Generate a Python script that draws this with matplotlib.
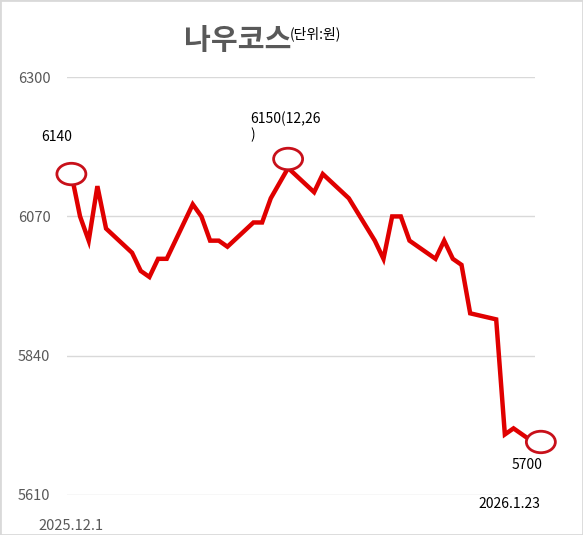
import matplotlib
matplotlib.use("Agg")
import matplotlib.pyplot as plt
import matplotlib.dates as mdates
from matplotlib.patches import Ellipse, Rectangle
from matplotlib.transforms import ScaledTranslation
from datetime import datetime, timedelta

plt.rcParams['font.family'] = ['Noto Sans CJK KR', 'DejaVu Sans']

# trading days (weekends / holidays skipped, date axis keeps the gaps)
dates = ["2025-12-01", "2025-12-02", "2025-12-03", "2025-12-04", "2025-12-05",
         "2025-12-08", "2025-12-09", "2025-12-10", "2025-12-11", "2025-12-12",
         "2025-12-15", "2025-12-16", "2025-12-17", "2025-12-18", "2025-12-19",
         "2025-12-22", "2025-12-23", "2025-12-24", "2025-12-26",
         "2025-12-29", "2025-12-30",
         "2026-01-02",
         "2026-01-05", "2026-01-06", "2026-01-07", "2026-01-08", "2026-01-09",
         "2026-01-12", "2026-01-13", "2026-01-14", "2026-01-15", "2026-01-16",
         "2026-01-19", "2026-01-20", "2026-01-21", "2026-01-22", "2026-01-23"]
prices = [6140, 6070, 6030, 6120, 6050,
          6010, 5980, 5970, 6000, 6000,
          6090, 6070, 6030, 6030, 6020,
          6060, 6060, 6100, 6150,
          6110, 6140,
          6100,
          6030, 6000, 6070, 6070, 6030,
          6000, 6030, 6000, 5990, 5910,
          5900, 5710, 5720, 5710, 5700]

y_ticks = [5610, 5840, 6070, 6300]

days = [datetime.strptime(d, "%Y-%m-%d") for d in dates]
xnum = mdates.date2num(days)

fig = plt.figure(figsize=(5.83, 5.35), dpi=100)
ax = fig.add_axes([0.115, 0.0748, 0.803, 0.781])

ax.plot(days, prices, color="#e00000", linewidth=3.2, solid_joinstyle="miter", zorder=3)

ax.set_ylim(5610, 6300)
ax.set_yticks(y_ticks)
ax.set_xlim(days[0] - timedelta(hours=12), days[-1] + timedelta(hours=12))
ax.grid(axis="y", color="#d9d9d9", linewidth=1.0)
ax.set_axisbelow(True)
for s in ax.spines.values():
    s.set_visible(False)
ax.tick_params(axis="y", length=0, pad=12, labelsize=10.5, labelcolor="#595959")
ax.set_xticks([days[0]])
ax.set_xticklabels(["2025.12.1"])
ax.tick_params(axis="x", length=0, pad=17, labelsize=10.5, labelcolor="#595959")

# circles around start / peak / end
peak = prices.index(max(prices))
for i, dx, dy in [(0, 0.0, 0.0), (peak, 0.0, 0.09), (len(prices) - 1, 0.10, -0.015)]:
    tr = fig.dpi_scale_trans + ScaledTranslation(xnum[i], prices[i], ax.transData)
    ax.add_patch(Ellipse((dx, dy), 0.29, 0.215, transform=tr, facecolor="white",
                         edgecolor="#c8101a", linewidth=2.0, zorder=4, clip_on=False))

# data labels
ax.annotate(str(prices[0]), (days[0], prices[0]), xytext=(-15, 37), textcoords="offset pixels",
            ha="center", va="center", fontsize=10, color="black")
ax.annotate("%d(12,26\n)" % prices[peak], (days[peak], prices[peak]), xytext=(-38, 56),
            textcoords="offset pixels", ha="left", va="top", fontsize=10, color="black",
            linespacing=1.1)
ax.annotate(str(prices[-1]), (days[-1], prices[-1]), xytext=(-4, -25), textcoords="offset pixels",
            ha="center", va="center", fontsize=10, color="black")
ax.annotate("2026.1.23", (days[-1], prices[-1]), xytext=(-21, -64), textcoords="offset pixels",
            ha="center", va="center", fontsize=10, color="black")

# title
fig.text(0.315, 0.925, "나우코스", fontsize=21, fontweight="bold", color="#595959",
         ha="left", va="center")
fig.text(0.497, 0.937, "(단위:원)", fontsize=10, color="black", ha="left", va="center")

fig.patches.append(Rectangle((0, 0), 1, 1, transform=fig.transFigure, fill=False,
                             edgecolor="#d9d9d9", linewidth=2))

fig.savefig("out.png", dpi=100)
